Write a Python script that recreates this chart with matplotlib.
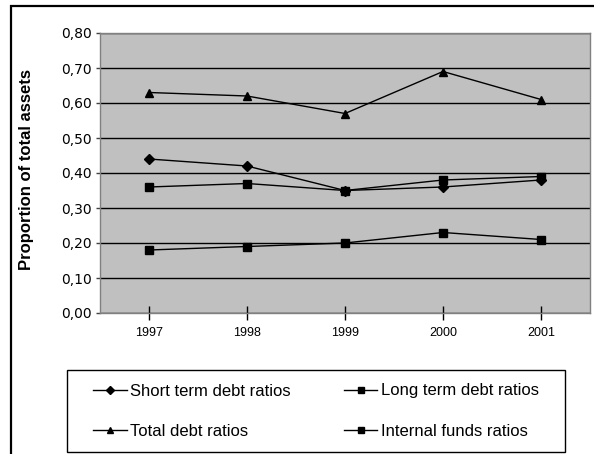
import numpy as np
import matplotlib.pyplot as plt
from matplotlib.patches import Rectangle

plt.rcParams["font.family"] = ["Liberation Sans", "DejaVu Sans"]

# Debt and funding ratios, share of total assets
years = ["1997", "1998", "1999", "2000", "2001"]
short_term = [0.44, 0.42, 0.35, 0.36, 0.38]
long_term = [0.36, 0.37, 0.35, 0.38, 0.39]
total_debt = [0.63, 0.62, 0.57, 0.69, 0.61]
internal_funds = [0.18, 0.19, 0.20, 0.23, 0.21]
y_ticks = [0.0, 0.1, 0.2, 0.3, 0.4, 0.5, 0.6, 0.7, 0.8]

fig = plt.figure(figsize=(5.94, 4.54), dpi=100)
W, H = 594, 454

# outer chart frame (runs off the right and bottom edges)
fig.patches.append(
    Rectangle((11 / W, -0.05), 1.2, 1 - 6 / H + 0.05, transform=fig.transFigure,
              fill=False, edgecolor="black", linewidth=1.6)
)

ax = fig.add_axes([100 / W, 1 - 313 / H, 490 / W, 280 / H])
ax.set_facecolor("#c0c0c0")

x = np.arange(len(years))
style = dict(color="black", linewidth=1.0, markersize=5.5)
l_short, = ax.plot(x, short_term, marker="D", label="Short term debt ratios",
                   **dict(style, markersize=5))
l_long, = ax.plot(x, long_term, marker="s", label="Long term debt ratios", **style)
l_total, = ax.plot(x, total_debt, marker="^", label="Total debt ratios", **style)
l_int, = ax.plot(x, internal_funds, marker="s", label="Internal funds ratios", **style)

ax.set_xlim(-0.5, len(years) - 0.5)
ax.set_ylim(0, 0.8)
ax.set_yticks(y_ticks)
ax.set_yticklabels([f"{v:.2f}".replace(".", ",") for v in y_ticks],
                   fontsize=10, family="DejaVu Sans")
ax.set_xticks(x)
ax.set_xticklabels(years, fontsize=9)
ax.yaxis.grid(True, color="black", linewidth=1.0)
ax.set_axisbelow(True)
ax.tick_params(axis="y", direction="out", length=3, width=1, color="#404040", pad=3)
ax.tick_params(axis="x", direction="inout", length=9.5, width=1, color="black", pad=5)
for s in ax.spines.values():
    s.set_color("#808080")
    s.set_linewidth(1.0)

fig.text(27 / W, 1 - 170 / H, "Proportion of total assets", rotation=90,
         ha="center", va="center", fontsize=12, fontweight="bold")

# legend box drawn separately so the side padding can be wider than the top
fig.patches.append(
    Rectangle((67 / W, 1 - 452 / H), 498 / W, 82 / H, transform=fig.transFigure,
              fill=False, edgecolor="black", linewidth=1.0)
)
order = [l_short, l_total, l_long, l_int]
leg = fig.legend(
    order, [l.get_label() for l in order],
    ncol=2, loc="center", bbox_to_anchor=(316 / W, 1 - 411 / H),
    fontsize=12, frameon=False, markerscale=0.85,
    handlelength=2.0, columnspacing=3.2, labelspacing=1.5, handletextpad=0.2,
)

fig.savefig("out.png", dpi=100)
